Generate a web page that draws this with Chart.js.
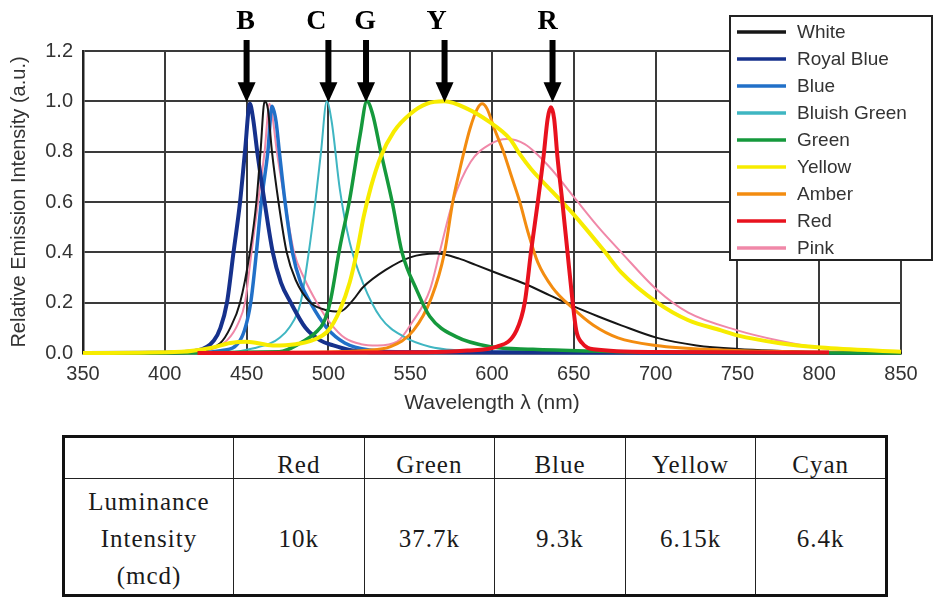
<!DOCTYPE html>
<html>
<head>
<meta charset="utf-8">
<script src="https://cdn.jsdelivr.net/npm/chart.js@4.4.1/dist/chart.umd.min.js"></script>
<style>
  body { margin: 0; background: #fff; }
  #wrap { position: relative; width: 934px; height: 599px; overflow: hidden; }
  #spectrum { position: absolute; left: 0; top: 0; }
  #lum {
    position: absolute; left: 62px; top: 435px; width: 826px;
    border-collapse: collapse; border: 3px solid #111; table-layout: fixed;
    font-family: 'Liberation Serif', serif; font-size: 25px; letter-spacing: 1px; color: #1a1a1a;
  }
  #lum td { border: 1.5px solid #222; text-align: center; padding: 0; }
  #lum tr.head td { height: 40px; vertical-align: bottom; line-height: 26px; }
  #lum tr.body td { height: 110px; vertical-align: middle; line-height: 37px; padding-top: 4px; }
</style>
</head>
<body>
<div id="wrap">
  <canvas id="spectrum" width="934" height="420"></canvas>
  <table id="lum">
    <colgroup><col style="width:170px"><col><col><col><col><col></colgroup>
    <tr class="head" id="lumHead"><td></td></tr>
    <tr class="body" id="lumBody"><td>Luminance<br>Intensity<br>(mcd)</td></tr>
  </table>
</div>
<script>
// spectra (wavelength in nm, relative intensity)
const whiteNm = [350, 400, 420, 434, 440, 446, 452, 456, 458.5, 461, 463, 465.5, 469.5, 474.5, 480, 489, 499, 507, 515, 521, 535, 550, 566, 580, 590, 600, 610, 620, 635, 650, 665, 679, 701, 725, 750, 800, 850];
const whiteVal = [0, 0.002, 0.008, 0.04, 0.1, 0.2, 0.4, 0.6, 0.8, 1.0, 0.97, 0.8, 0.6, 0.4, 0.29, 0.2, 0.17, 0.165, 0.21, 0.26, 0.33, 0.38, 0.395, 0.375, 0.35, 0.325, 0.3, 0.275, 0.23, 0.185, 0.145, 0.11, 0.06, 0.03, 0.016, 0.004, 0];

const royalBlueNm = [350, 400, 420, 430, 434, 438, 442, 446, 449, 452, 454, 456.5, 461, 466, 471, 477, 486, 495, 503, 513, 530, 850];
const royalBlueVal = [0, 0.001, 0.01, 0.05, 0.1, 0.2, 0.4, 0.6, 0.8, 0.99, 0.93, 0.8, 0.6, 0.4, 0.28, 0.2, 0.1, 0.05, 0.03, 0.012, 0.003, 0];

const blueNm = [350, 420, 435, 446, 452.5, 456, 459, 463, 465.5, 468, 470, 473.5, 478, 483, 489, 499, 510, 525, 550, 850];
const blueVal = [0, 0.002, 0.01, 0.05, 0.2, 0.4, 0.6, 0.8, 0.98, 0.92, 0.8, 0.6, 0.4, 0.28, 0.2, 0.1, 0.04, 0.012, 0.004, 0];

const bluishGreenNm = [350, 440, 455, 465, 470, 476, 483, 488, 492, 495.5, 499, 502, 507, 513, 521, 532, 546, 562, 580, 600, 850];
const bluishGreenVal = [0, 0.003, 0.02, 0.04, 0.06, 0.1, 0.2, 0.4, 0.6, 0.8, 1.0, 0.92, 0.65, 0.44, 0.28, 0.14, 0.065, 0.025, 0.01, 0.004, 0];

const greenNm = [350, 470, 483, 492, 497, 501, 507, 513, 519.5, 523.5, 527, 532, 539, 545, 554, 562, 578, 599, 625, 660, 700, 850];
const greenVal = [0, 0.005, 0.04, 0.08, 0.12, 0.2, 0.42, 0.61, 0.87, 1.0, 0.95, 0.8, 0.6, 0.4, 0.25, 0.145, 0.065, 0.025, 0.015, 0.008, 0.003, 0];

const yellowNm = [350, 410, 428, 440, 450, 466, 480, 490, 500, 507, 513, 518, 521.5, 526, 532, 540, 550, 560, 571, 585, 598, 611, 617, 624, 637, 650, 668, 679, 701, 720, 740, 750, 775, 801, 850];
const yellowVal = [0, 0.005, 0.02, 0.04, 0.045, 0.03, 0.035, 0.05, 0.09, 0.17, 0.28, 0.42, 0.54, 0.66, 0.78, 0.88, 0.95, 0.99, 1.0, 0.97, 0.92, 0.85, 0.79, 0.73, 0.64, 0.55, 0.41, 0.32, 0.2, 0.13, 0.09, 0.07, 0.04, 0.022, 0.005];

const amberNm = [350, 480, 510, 522, 538, 552, 563, 571, 576, 580, 586.5, 591, 594, 597, 601.5, 607, 612, 617, 622, 628, 637, 649, 662, 677, 700, 740, 800, 850];
const amberVal = [0, 0.003, 0.006, 0.01, 0.025, 0.09, 0.22, 0.4, 0.6, 0.72, 0.89, 0.97, 0.99, 0.97, 0.89, 0.8, 0.7, 0.6, 0.48, 0.36, 0.26, 0.18, 0.11, 0.06, 0.03, 0.012, 0.004, 0];

const redNm = [420, 560, 585, 603, 615, 620, 624, 628, 631.5, 634, 636, 638, 640, 643, 646, 649, 651.5, 655, 662, 700, 806];
const redVal = [0, 0.003, 0.01, 0.025, 0.09, 0.2, 0.41, 0.6, 0.78, 0.93, 0.976, 0.93, 0.78, 0.6, 0.41, 0.22, 0.09, 0.04, 0.015, 0.004, 0.002];

const pinkNm = [350, 400, 425, 438, 445, 449, 453, 457, 461, 464, 466, 468.5, 473.5, 479, 485, 493, 501, 510, 520, 530, 542, 551, 562, 568, 576, 587, 599, 609, 620, 635, 650, 665, 679, 701, 720, 750, 775, 801, 850];
const pinkVal = [0, 0.003, 0.01, 0.05, 0.12, 0.2, 0.4, 0.6, 0.8, 0.99, 0.93, 0.8, 0.6, 0.4, 0.3, 0.2, 0.12, 0.06, 0.035, 0.03, 0.045, 0.12, 0.25, 0.4, 0.6, 0.76, 0.83, 0.85, 0.83, 0.74, 0.62, 0.5, 0.4, 0.25, 0.16, 0.09, 0.05, 0.02, 0.005];

const seriesNames = ['White', 'Royal Blue', 'Blue', 'Bluish Green', 'Green', 'Yellow', 'Amber', 'Red', 'Pink'];
const seriesNm = [whiteNm, royalBlueNm, blueNm, bluishGreenNm, greenNm, yellowNm, amberNm, redNm, pinkNm];
const seriesVal = [whiteVal, royalBlueVal, blueVal, bluishGreenVal, greenVal, yellowVal, amberVal, redVal, pinkVal];

// peak markers above the plot
const markerLetters = ['B', 'C', 'G', 'Y', 'R'];
const markerNm = [450, 500, 523, 571, 637];

// luminance table
const tableColors = ['Red', 'Green', 'Blue', 'Yellow', 'Cyan'];
const luminance = ['10k', '37.7k', '9.3k', '6.15k', '6.4k'];

// styles
const lineColors = ['#161616', '#16318c', '#2170c8', '#3fb6c2', '#15993c', '#f7ec00', '#f38c10', '#e8121e', '#f088a8'];
const lineWidths = [2, 4, 3.5, 2, 3.5, 4, 3, 4, 2];
const drawOrder = [3, 4, 5, 6, 2, 1, 2, 0, 7];
const letterShift = [-1, -12, -1, -8, -5];

const head = document.getElementById('lumHead');
const body = document.getElementById('lumBody');
tableColors.forEach(function (c, i) {
  const th = document.createElement('td');
  th.textContent = c;
  head.appendChild(th);
  const td = document.createElement('td');
  td.textContent = luminance[i];
  body.appendChild(td);
});

const datasets = seriesNames.map(function (name, i) {
  return {
    label: name,
    data: seriesNm[i].map(function (x, j) { return { x: x, y: seriesVal[i][j] }; }),
    borderColor: lineColors[i],
    backgroundColor: lineColors[i],
    borderWidth: lineWidths[i],
    pointRadius: 0,
    cubicInterpolationMode: 'monotone',
    fill: false,
    order: drawOrder[i],
    clip: 6
  };
});

const marksPlugin = {
  id: 'marks',
  afterDraw(chart) {
    const ctx = chart.ctx;
    const xs = chart.scales.x;
    const ys = chart.scales.y;
    const tip = ys.getPixelForValue(1.0);
    ctx.save();
    // arrows + letters
    ctx.fillStyle = '#000';
    ctx.font = "bold 28px 'Liberation Serif'";
    ctx.textAlign = 'center';
    ctx.textBaseline = 'middle';
    markerNm.forEach(function (nm, i) {
      const x = xs.getPixelForValue(nm);
      ctx.fillRect(x - 3, 40, 6, tip - 58);
      ctx.beginPath();
      ctx.moveTo(x - 9, tip - 19);
      ctx.lineTo(x + 9, tip - 19);
      ctx.lineTo(x, tip + 1);
      ctx.closePath();
      ctx.fill();
      ctx.fillText(markerLetters[i], x + letterShift[i], 22);
    });
    // legend box
    const bx = 730, by = 16, bw = 202, bh = 244;
    ctx.fillStyle = '#fff';
    ctx.fillRect(bx, by, bw, bh);
    ctx.strokeStyle = '#222';
    ctx.lineWidth = 2;
    ctx.strokeRect(bx, by, bw, bh);
    ctx.font = "19px 'Liberation Sans'";
    ctx.textAlign = 'left';
    chart.data.datasets.forEach(function (ds, i) {
      const y = by + 16 + i * 27;
      ctx.strokeStyle = ds.borderColor;
      ctx.lineWidth = 3.5;
      ctx.beginPath();
      ctx.moveTo(bx + 7, y);
      ctx.lineTo(bx + 56, y);
      ctx.stroke();
      ctx.fillStyle = '#333';
      ctx.fillText(ds.label, bx + 67, y + 1);
    });
    ctx.restore();
  }
};

new Chart(document.getElementById('spectrum'), {
  type: 'line',
  data: { datasets: datasets },
  plugins: [marksPlugin],
  options: {
    responsive: false,
    animation: false,
    devicePixelRatio: 1,
    layout: { padding: { left: 0, top: 51, right: 33, bottom: 0 } },
    plugins: { legend: { display: false }, tooltip: { enabled: false } },
    scales: {
      x: {
        type: 'linear',
        min: 350,
        max: 850,
        afterFit: function (s) { s.height = 67; },
        ticks: { stepSize: 50, color: '#333', padding: 9, font: { family: 'Liberation Sans', size: 20 } },
        grid: { color: '#3a3a3a', lineWidth: 2, drawTicks: false },
        border: { color: '#222', width: 2.5 },
        title: { display: true, text: 'Wavelength λ (nm)', color: '#333', padding: { top: 0, bottom: 4 }, font: { family: 'Liberation Sans', size: 21 } }
      },
      y: {
        min: 0,
        max: 1.2,
        afterFit: function (s) { s.width = 83; },
        ticks: { stepSize: 0.2, color: '#333', padding: 10, font: { family: 'Liberation Sans', size: 20 }, callback: function (v) { return v.toFixed(1); } },
        grid: { color: '#3a3a3a', lineWidth: 2, drawTicks: false },
        border: { color: '#222', width: 2.5 },
        title: { display: true, text: 'Relative Emission Intensity (a.u.)', color: '#333', padding: { top: 7, bottom: 0 }, font: { family: 'Liberation Sans', size: 20 } }
      }
    }
  }
});
</script>
</body>
</html>
